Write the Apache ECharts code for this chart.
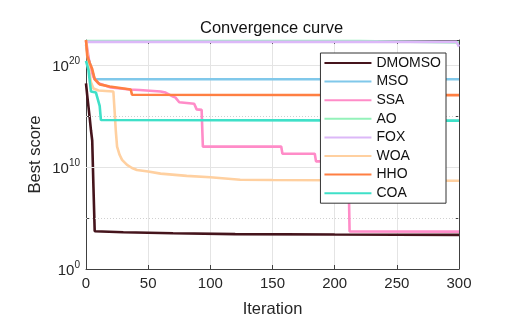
<!DOCTYPE html>
<html>
<head>
<meta charset="utf-8">
<script src="https://cdn.jsdelivr.net/npm/echarts@6/dist/echarts.min.js"></script>
<style>
html,body{margin:0;padding:0;background:#fff;}
#chart{width:518px;height:334px;}
</style>
</head>
<body>
<div id="chart"></div>
<script>
// Values are log10(best score), as [iteration, exponent]
const seriesNames = ['DMOMSO','MSO','SSA','AO','FOX','WOA','HHO','COA'];
const seriesColors = ['#45141c','#80c8ea','#ff8cc8','#94f2ba','#dcb8f8','#ffd0a0','#ff7f42','#3fe0c8'];

const dmomso = [[0,18.2],[1,17.0],[2,15.9],[3,14.8],[4,13.6],[5,12.6],[6,8.0],[7,3.7],[30,3.6],[70,3.5],[120,3.42],[200,3.38],[300,3.35]];
const mso = [[0,22.0],[2,20.6],[5,19.4],[7,18.6],[300,18.6]];
const ssa = [[0,22.4],[3,20.0],[6,18.8],[10,18.2],[20,17.8],[35,17.6],[43,17.55],[60,17.4],[64,17.3],[70,16.9],[72,16.8],[75,16.35],[87,16.2],[89,15.65],[93,15.6],[94,12.0],[157,12.0],[158,11.3],[184,11.3],[185,10.55],[211,10.55],[212,3.68],[300,3.66]];
const ao = [[0,22.35],[220,22.35],[221,22.2],[300,22.2]];
const fox = [[0,22.27],[298,22.27],[300,21.8]];
const woa = [[0,22.4],[2,20.0],[4,18.3],[6,17.7],[10,17.5],[22,17.4],[23,15.5],[24,13.5],[25,12.0],[27,11.2],[29,10.7],[33,10.2],[37,9.9],[41,9.7],[50,9.55],[60,9.35],[81,9.13],[100,9.0],[124,8.75],[150,8.72],[200,8.7],[300,8.65]];
const hho = [[0,22.45],[1,20.9],[3,20.2],[5,19.6],[7,18.6],[11,18.1],[19,17.9],[36,17.6],[37,17.08],[300,17.05]];
const coa = [[0,20.4],[2,19.5],[4,17.4],[8,17.3],[11,16.0],[12,14.6],[300,14.55]];

const allData = [dmomso, mso, ssa, ao, fox, woa, hho, coa];

const xTicks = [0, 50, 100, 150, 200, 250, 300];
const yLabelExps = [0, 10, 20];
const ySolidGrid = [10, 20];
const yDottedGrid = [5, 15];

const FONT = '"Liberation Sans", Arial, Helvetica, sans-serif';
const AX = '#404040';
const TXT = '#262626';

const chart = echarts.init(document.getElementById('chart'), null, {renderer: 'canvas'});

const series = seriesNames.map((name, i) => ({
  name: name,
  type: 'line',
  data: allData[i],
  symbol: 'none',
  z: 3 + i,
  lineStyle: {color: seriesColors[i], width: 2.6},
  itemStyle: {color: seriesColors[i]},
  emphasis: {disabled: true},
  animation: false
}));

series.push({
  name: 'grid',
  type: 'line',
  data: [],
  z: 1,
  silent: true,
  markLine: {
    silent: true,
    symbol: 'none',
    label: {show: false},
    animation: false,
    data: ySolidGrid.map(v => ({yAxis: v, lineStyle: {color: '#e4e4e4', width: 1, type: 'solid'}}))
      .concat(yDottedGrid.map(v => ({yAxis: v, lineStyle: {color: '#d0d0d0', width: 1, type: [1, 2]}})))
  }
});

const option = {
  animation: false,
  backgroundColor: '#ffffff',
  title: {
    text: 'Convergence curve',
    left: 200,
    top: 20,
    padding: 0,
    textStyle: {fontFamily: FONT, fontSize: 16.5, fontWeight: 'normal', color: '#111'}
  },
  grid: {left: 86, top: 40, width: 373, height: 229, containLabel: false},
  legend: {
    data: seriesNames,
    orient: 'vertical',
    right: 72, top: 53,
    backgroundColor: '#ffffff',
    borderColor: '#333',
    borderWidth: 1,
    borderRadius: 0,
    padding: [3, 5, 3, 4],
    itemWidth: 47, itemHeight: 14, itemGap: 4.6,
    icon: 'path://M0,6L47,6L47,8L0,8Z',
    textStyle: {fontFamily: FONT, fontSize: 14, color: '#111'},
    z: 20
  },
  xAxis: [{
    type: 'value', min: 0, max: 300, interval: 50,
    name: 'Iteration', nameLocation: 'middle', nameGap: 32,
    nameMoveOverlap: false,
    nameTextStyle: {fontFamily: FONT, fontSize: 16.5, color: TXT},
    axisLine: {show: true, lineStyle: {color: AX, width: 1}},
    axisTick: {show: true, inside: true, length: 4, lineStyle: {color: AX}},
    axisLabel: {fontFamily: FONT, fontSize: 15, color: TXT, margin: 7},
    splitLine: {show: true, lineStyle: {color: '#e4e4e4', width: 1}}
  }, {
    type: 'value', min: 0, max: 300, interval: 50, position: 'top',
    axisLine: {show: true, onZero: false, lineStyle: {color: AX, width: 1}},
    axisTick: {show: true, inside: true, length: 4, lineStyle: {color: AX}},
    axisLabel: {show: false},
    splitLine: {show: false}
  }],
  yAxis: [{
    type: 'value', min: 0, max: 22.45, interval: 5,
    name: 'Best score', nameLocation: 'middle', nameGap: 42,
    nameMoveOverlap: false,
    nameTextStyle: {fontFamily: FONT, fontSize: 16.5, color: TXT},
    axisLine: {show: true, lineStyle: {color: AX, width: 1}},
    axisTick: {show: true, inside: true, length: 4, lineStyle: {color: AX}},
    axisLabel: {
      margin: 6,
      formatter: function (v) {
        return yLabelExps.indexOf(v) >= 0 ? '{b|10}{e|' + v + '}' : '';
      },
      rich: {
        b: {fontFamily: FONT, fontSize: 15, color: TXT, lineHeight: 16, padding: [7, 0, 0, 0], verticalAlign: 'bottom'},
        e: {fontFamily: FONT, fontSize: 10, color: TXT, lineHeight: 18, verticalAlign: 'top'}
      }
    },
    splitLine: {show: false}
  }, {
    type: 'value', min: 0, max: 22.45, interval: 5, position: 'right',
    axisLine: {show: true, onZero: false, lineStyle: {color: AX, width: 1}},
    axisTick: {show: true, inside: true, length: 4, lineStyle: {color: AX}},
    axisLabel: {show: false},
    splitLine: {show: false}
  }],
  series: series
};

chart.setOption(option);
</script>
</body>
</html>
